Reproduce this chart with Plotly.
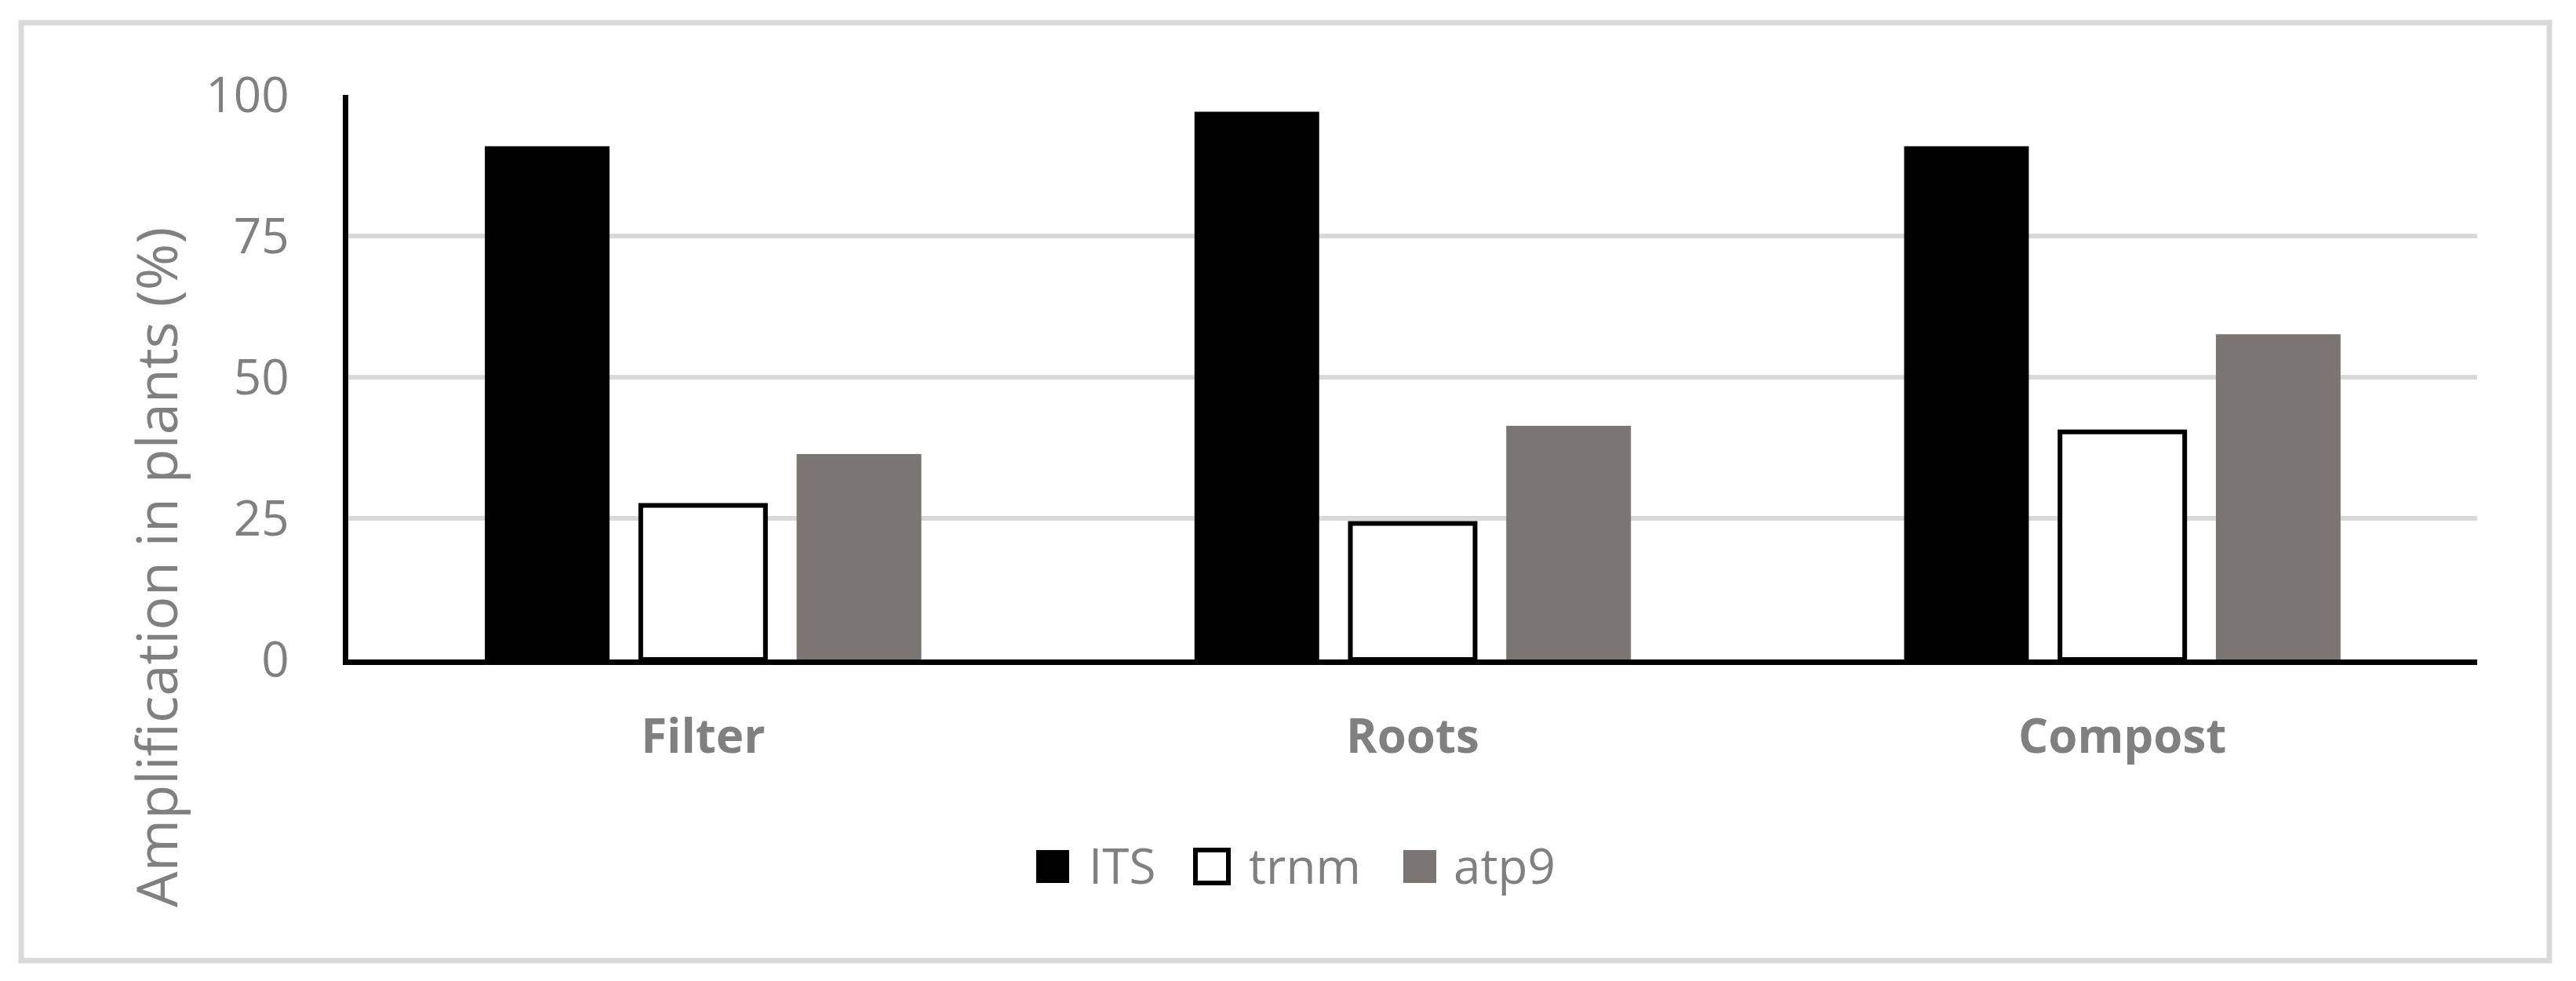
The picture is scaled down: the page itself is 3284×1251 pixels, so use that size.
import plotly.graph_objects as go

# data
categories = ["Filter", "Roots", "Compost"]
its = [90.9, 97.0, 90.9]
trnm = [27.3, 24.1, 40.3]
atp9 = [36.4, 41.4, 57.6]

y_ticks = [0, 25, 50, 75, 100]
series_names = ["ITS", "trnm", "atp9"]

# the page body has an 8px margin, so work in screenshot pixels minus that
OFF = 8
W, H = 3284 - 2 * OFF, 1251 - 2 * OFF
# plot area in screenshot pixels
PL, PR, PT, PB = 444, 3158, 121, 841

GREY_TXT = "#808080"
GRID = "#d9d9d9"
ATP_COL = "#7b7574"
FONT = "Open Sans"


def px(x):
    return (x - PL) / (PR - PL)


def py(y):
    return (PB - y) / (PB - PT)


fig = go.Figure()
fig.add_trace(go.Bar(x=categories, y=its, name=series_names[0],
                     marker=dict(color="black", line=dict(width=0))))
fig.add_trace(go.Bar(x=categories, y=trnm, name=series_names[1],
                     marker=dict(color="white", line=dict(color="black", width=6))))
fig.add_trace(go.Bar(x=categories, y=atp9, name=series_names[2],
                     marker=dict(color=ATP_COL, line=dict(width=0))))

fig.update_layout(
    width=W, height=H,
    margin=dict(l=PL - OFF, r=W - (PR - OFF), t=PT - OFF, b=H - (PB - OFF)),
    paper_bgcolor="white", plot_bgcolor="white",
    barmode="group", bargap=0.341, bargroupgap=0.2,
    showlegend=False,
    font=dict(family=FONT, color=GREY_TXT),
)

fig.update_xaxes(
    type="category", showline=True, linecolor="black", linewidth=7,
    ticks="", showgrid=False,
    tickfont=dict(family=FONT, size=60, color=GREY_TXT, weight="bold"),
    ticklabelstandoff=40,
)
fig.update_yaxes(
    range=[0, 100], tickvals=y_ticks, ticktext=[str(v) for v in y_ticks],
    showgrid=True, gridcolor=GRID, gridwidth=6, zeroline=False,
    showline=True, linecolor="black", linewidth=7, ticks="",
    tickfont=dict(family=FONT, size=62, color=GREY_TXT),
    ticklabelstandoff=56,
)

# y axis title
fig.add_annotation(
    text="Amplification in plants (%)", textangle=-90,
    xref="paper", yref="paper", x=px(198), y=py(723), showarrow=False,
    xanchor="center", yanchor="middle",
    font=dict(family=FONT, size=72, color=GREY_TXT),
)

# outer chart border
fig.add_shape(type="rect", xref="paper", yref="paper",
              x0=px(27), x1=px(3250), y0=py(29), y1=py(1225),
              line=dict(color=GRID, width=7), fillcolor="rgba(0,0,0,0)",
              layer="below")

# legend drawn by hand so the swatches are as large as in the reference
legend_items = [
    (1321, 1386, dict(fillcolor="black", line=dict(width=0))),
    (1524, 1590, dict(fillcolor="white", line=dict(color="black", width=6))),
    (1789, 1851, dict(fillcolor=ATP_COL, line=dict(width=0))),
]
for name, (sx, tx, sty) in zip(series_names, legend_items):
    fig.add_shape(type="rect", xref="paper", yref="paper",
                  x0=px(sx), x1=px(sx + 42), y0=py(1084), y1=py(1126), **sty)
    fig.add_annotation(text=name, xref="paper", yref="paper",
                       x=px(tx), y=py(1103), showarrow=False,
                       xanchor="left", yanchor="middle",
                       font=dict(family=FONT, size=62, color=GREY_TXT))

fig.write_html("out.html")
